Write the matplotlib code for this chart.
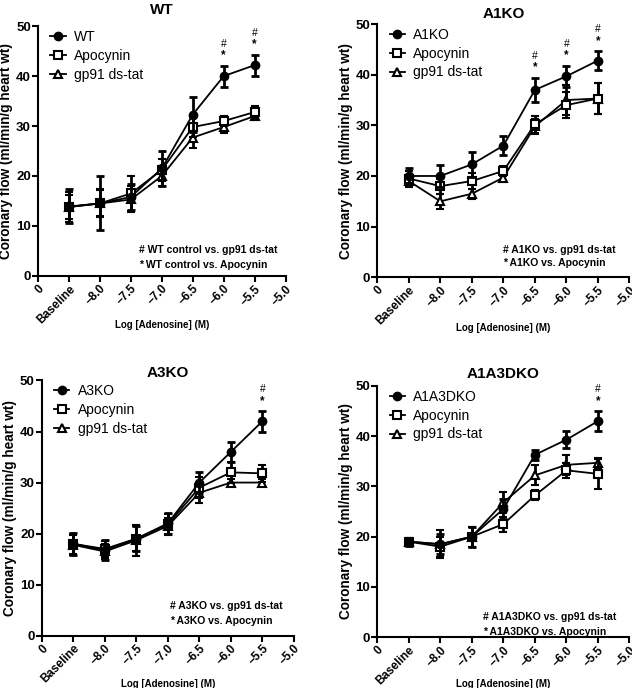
import matplotlib
matplotlib.use("Agg")
import matplotlib.pyplot as plt
from matplotlib.lines import Line2D

plt.rcParams['font.family'] = ['Liberation Sans', 'DejaVu Sans']

# --- dane ---
tick_labels = ["0", "Baseline", "\u20138.0", "\u20137.5", "\u20137.0", "\u20136.5", "\u20136.0", "\u20135.5", "\u20135.0"]
doses = [1, 2, 3, 4, 5, 6, 7]   # Baseline ... -5.5

wt_ctrl = [13.9, 14.5, 15.8, 21.5, 32.3, 40.0, 42.2]
wt_ctrl_err = [3.4, 5.4, 2.6, 3.5, 3.5, 2.1, 2.1]
wt_apo = [13.8, 14.5, 16.5, 21.2, 29.8, 31.0, 32.8]
wt_apo_err = [3.0, 2.6, 3.5, 2.2, 2.0, 1.0, 1.2]
wt_gp = [13.8, 14.5, 15.3, 20.0, 27.7, 29.8, 32.0]
wt_gp_err = [2.4, 2.8, 2.6, 2.0, 2.0, 1.2, 0.8]

a1_ctrl = [20.0, 20.0, 22.3, 26.0, 37.0, 39.7, 42.8]
a1_ctrl_err = [1.5, 2.2, 2.5, 1.9, 2.4, 2.1, 1.9]
a1_apo = [19.5, 18.0, 19.0, 21.0, 30.2, 34.0, 35.3]
a1_apo_err = [1.5, 1.5, 1.5, 1.0, 1.7, 2.5, 3.0]
a1_gp = [19.0, 15.0, 16.5, 19.7, 29.8, 35.0, 35.3]
a1_gp_err = [1.2, 1.5, 1.0, 0.8, 1.5, 3.0, 3.0]

a3_ctrl = [18.0, 16.8, 19.0, 22.0, 30.0, 36.0, 42.0]
a3_ctrl_err = [2.2, 2.0, 2.5, 2.0, 2.0, 2.0, 2.0]
a3_apo = [18.0, 17.0, 19.0, 21.8, 29.0, 32.0, 31.8]
a3_apo_err = [2.0, 1.5, 2.5, 2.0, 2.0, 2.0, 1.6]
a3_gp = [17.8, 16.5, 18.7, 21.5, 28.0, 30.0, 30.0]
a3_gp_err = [2.0, 1.5, 3.0, 1.5, 2.0, 0.7, 0.7]

dko_ctrl = [19.0, 18.5, 20.0, 25.5, 36.3, 39.3, 43.0]
dko_ctrl_err = [0.8, 2.0, 2.0, 2.0, 1.0, 1.7, 2.0]
dko_apo = [19.0, 18.0, 20.0, 22.5, 28.2, 33.2, 32.5]
dko_apo_err = [0.8, 2.0, 2.0, 1.5, 1.0, 1.5, 3.0]
dko_gp = [19.0, 18.5, 20.0, 26.8, 32.2, 34.3, 34.7]
dko_gp_err = [0.8, 2.8, 2.0, 2.0, 2.0, 2.0, 1.0]

panel_names = ["WT", "A1KO", "A3KO", "A1A3DKO"]
note_names = ["WT control", "A1KO", "A3KO", "A1A3DKO"]
# indeksy punktow z istotnoscia (# nad *)
sig_points = [[5, 6], [4, 5, 6], [6], [6]]

panels = [
    (wt_ctrl, wt_ctrl_err, wt_apo, wt_apo_err, wt_gp, wt_gp_err),
    (a1_ctrl, a1_ctrl_err, a1_apo, a1_apo_err, a1_gp, a1_gp_err),
    (a3_ctrl, a3_ctrl_err, a3_apo, a3_apo_err, a3_gp, a3_gp_err),
    (dko_ctrl, dko_ctrl_err, dko_apo, dko_apo_err, dko_gp, dko_gp_err),
]

# --- uklad ---
rects = [
    [0.060, 0.599, 0.392, 0.363],
    [0.597, 0.597, 0.399, 0.368],
    [0.066, 0.076, 0.399, 0.371],
    [0.597, 0.074, 0.399, 0.365],
]
title_pads = [9, 4.5, 2.5, 6]
xlabel_y = [-0.176, -0.18, -0.169, -0.167]
note_x = [0.41, 0.50, 0.51, 0.42]
note_y = [(0.104, 0.044), (0.108, 0.056), (0.118, 0.059), (0.080, 0.020)]

fig = plt.figure(figsize=(6.32, 6.88), dpi=100)

for i, name in enumerate(panel_names):
    ax = fig.add_axes(rects[i])
    ctrl, ctrl_err, apo, apo_err, gp, gp_err = panels[i]

    common = dict(color='black', lw=1.3, elinewidth=2.0, capsize=3.2, capthick=2.0)
    ax.errorbar(doses, gp, yerr=gp_err, marker='^', ms=6, mfc='white', mec='black',
                mew=1.5, zorder=3, **common)
    ax.errorbar(doses, apo, yerr=apo_err, marker='s', ms=6, mfc='white', mec='black',
                mew=1.5, zorder=4, **common)
    ax.errorbar(doses, ctrl, yerr=ctrl_err, marker='o', ms=6, mfc='black', mec='black',
                zorder=5, **common)

    # oznaczenia istotnosci
    for k in sig_points[i]:
        top = ctrl[k] + ctrl_err[k]
        ax.text(doses[k], top + 2.0, "*", ha='center', va='center', fontsize=8.5, fontweight='bold')
        ax.text(doses[k], top + 4.3, "#", ha='center', va='center', fontsize=7.5)

    ax.set_xlim(0, 8)
    ax.set_ylim(0, 50)
    ax.set_xticks(range(9))
    ax.set_xticklabels(tick_labels, rotation=45, ha='right', rotation_mode='anchor',
                       fontsize=8.5, fontweight='bold')
    ax.set_yticks([0, 10, 20, 30, 40, 50])
    for lab in ax.get_yticklabels():
        lab.set_fontweight('bold')
        lab.set_fontsize(9.5)
    ax.spines['top'].set_visible(False)
    ax.spines['right'].set_visible(False)
    ax.spines['left'].set_linewidth(1.5)
    ax.spines['bottom'].set_linewidth(1.5)
    ax.tick_params(direction='out', length=4, width=1.5, pad=1)

    ax.set_ylabel("Coronary flow (ml/min/g heart wt)", fontsize=9.8, fontweight='bold', labelpad=2)
    ax.set_xlabel("Log [Adenosine] (M)", fontsize=7, fontweight='bold')
    ax.xaxis.set_label_coords(0.5, xlabel_y[i])
    ax.set_title(name, fontsize=11, fontweight='bold', pad=title_pads[i])

    handles = [
        Line2D([], [], color='black', lw=1.3, marker='o', ms=6, mfc='black'),
        Line2D([], [], color='black', lw=1.3, marker='s', ms=6, mfc='white', mew=1.5),
        Line2D([], [], color='black', lw=1.3, marker='^', ms=6, mfc='white', mew=1.5),
    ]
    ax.legend(handles, [name, 'Apocynin', 'gp91 ds-tat'], loc='upper left',
              bbox_to_anchor=(0.0, 1.035), frameon=False, fontsize=10,
              handlelength=1.1, handletextpad=0.6, labelspacing=0.35)

    ax.text(note_x[i], note_y[i][0], "# " + note_names[i] + " vs. gp91 ds-tat",
            transform=ax.transAxes, fontsize=7.5, fontweight='bold', va='center')
    ax.text(note_x[i], note_y[i][1], "* " + note_names[i] + " vs. Apocynin",
            transform=ax.transAxes, fontsize=7.5, fontweight='bold', va='center')

fig.savefig("out.png", dpi=100)
